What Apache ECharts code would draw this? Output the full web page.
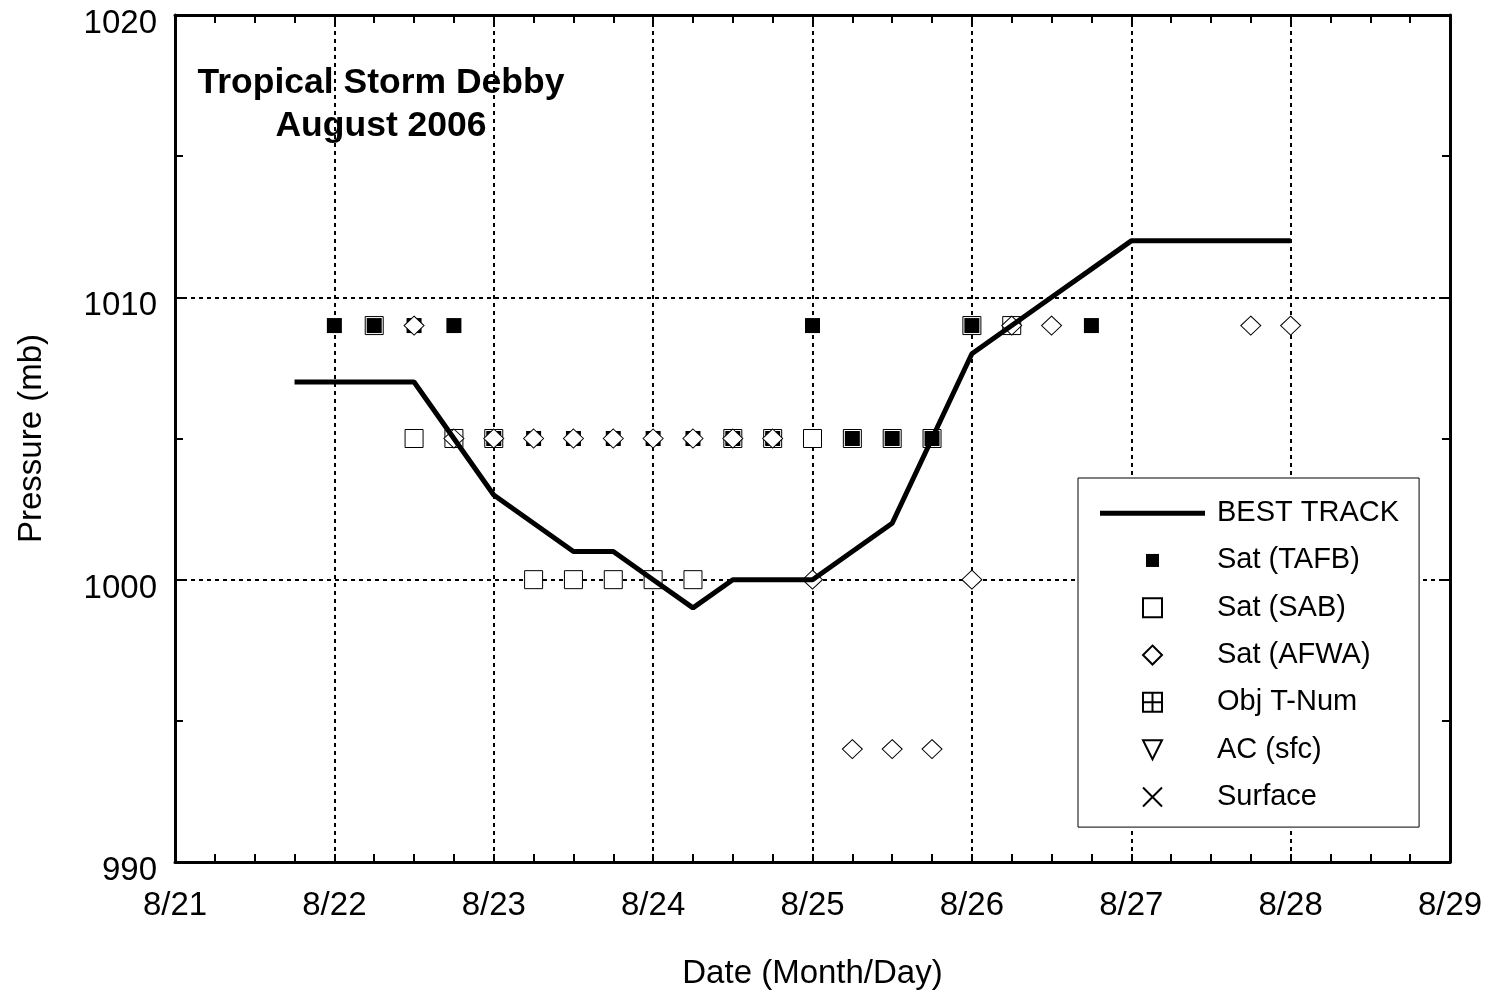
<!DOCTYPE html>
<html>
<head>
<meta charset="utf-8">
<script src="https://cdn.jsdelivr.net/npm/echarts@6/dist/echarts.min.js"></script>
<style>
html,body{margin:0;padding:0;background:#fff;}
#chart{width:1494px;height:998px;}
</style>
</head>
<body>
<div id="chart"></div>
<script>
// ---- data (day of August 2006, pressure in mb) ----
const xTickDays = [21, 22, 23, 24, 25, 26, 27, 28, 29];
const yTicks = [990, 1000, 1010, 1020];

const bestTrackTime = [21.75, 22.0, 22.25, 22.5, 22.75, 23.0, 23.25, 23.5, 23.75, 24.0, 24.25, 24.5, 24.75, 25.0, 25.25, 25.5, 25.75, 26.0, 26.25, 26.5, 26.75, 27.0, 27.25, 27.5, 27.75, 28.0];
const bestTrackPres = [1007, 1007, 1007, 1007, 1005, 1003, 1002, 1001, 1001, 1000, 999, 1000, 1000, 1000, 1001, 1002, 1005, 1008, 1009, 1010, 1011, 1012, 1012, 1012, 1012, 1012];

const tafbTime = [22.0, 22.25, 22.5, 22.75, 23.0, 23.25, 23.5, 23.75, 24.0, 24.25, 24.5, 24.75, 25.0, 25.25, 25.5, 25.75, 26.0, 26.75];
const tafbPres = [1009, 1009, 1009, 1009, 1005, 1005, 1005, 1005, 1005, 1005, 1005, 1005, 1009, 1005, 1005, 1005, 1009, 1009];

const sabTime = [22.25, 22.5, 22.75, 23.0, 23.25, 23.5, 23.75, 24.0, 24.25, 24.5, 24.75, 25.0, 25.25, 25.5, 25.75, 26.0, 26.25];
const sabPres = [1009, 1005, 1005, 1005, 1000, 1000, 1000, 1000, 1000, 1005, 1005, 1005, 1005, 1005, 1005, 1009, 1009];

const afwaTime = [22.5, 22.75, 23.0, 23.25, 23.5, 23.75, 24.0, 24.25, 24.5, 24.75, 25.0, 25.25, 25.5, 25.75, 26.0, 26.25, 26.5, 27.75, 28.0];
const afwaPres = [1009, 1005, 1005, 1005, 1005, 1005, 1005, 1005, 1005, 1005, 1000, 994, 994, 994, 1000, 1009, 1009, 1009, 1009];

const objTNumTime = [];
const objTNumPres = [];
const acSfcTime = [];
const acSfcPres = [];
const surfaceTime = [];
const surfacePres = [];

const seriesNames = ['BEST TRACK', 'Sat (TAFB)', 'Sat (SAB)', 'Sat (AFWA)', 'Obj T-Num', 'AC (sfc)', 'Surface'];
const titleLines = ['Tropical Storm Debby', 'August 2006'];

function pairs(t, p) { return t.map((v, i) => [v, p[i]]); }

const FONT = '"Liberation Sans", Arial, Helvetica, sans-serif';
const gridDash = { color: '#000', width: 2, type: [4, 4] };

const SQUARE = 'path://M0,0L10,0L10,10L0,10Z';
const DIAMOND = 'path://M5,0L10,5L5,10L0,5Z';
const GRIDSQ = 'path://M0,0L10,0L10,10L0,10Z M5,0L5,10 M0,5L10,5';
const TRIDOWN = 'path://M0,0L10,0L5,10Z';
const CROSS = 'path://M0,0L10,10 M10,0L0,10';

const chart = echarts.init(document.getElementById('chart'), null, { renderer: 'canvas' });

const xBase = {
  type: 'value', min: xTickDays[0], max: xTickDays[xTickDays.length - 1], interval: 1,
  axisLine: { show: true, onZero: false, lineStyle: { color: '#000', width: 3 } },
  axisTick: { show: true, inside: true, length: 8, lineStyle: { color: '#000', width: 2 } },
  minorTick: { show: true, splitNumber: 4, length: 8, lineStyle: { color: '#000', width: 2 } },
  minorSplitLine: { show: false }
};
const yBase = {
  type: 'value', min: yTicks[0], max: yTicks[yTicks.length - 1], interval: 10,
  axisLine: { show: true, onZero: false, lineStyle: { color: '#000', width: 3 } },
  axisTick: { show: true, inside: true, length: 8, lineStyle: { color: '#000', width: 2 } },
  minorTick: { show: true, splitNumber: 2, length: 8, lineStyle: { color: '#000', width: 2 } },
  minorSplitLine: { show: false }
};

const option = {
  animation: false,
  backgroundColor: '#fff',
  textStyle: { fontFamily: FONT, color: '#000' },
  grid: { left: 175, right: 44, top: 15, bottom: 136, containLabel: false },
  xAxis: [
    Object.assign({}, xBase, {
      position: 'bottom',
      name: 'Date (Month/Day)', nameLocation: 'middle', nameGap: 95,
      nameTextStyle: { fontFamily: FONT, fontSize: 33, color: '#000', verticalAlign: 'top' },
      axisLabel: { show: true, margin: 27, fontFamily: FONT, fontSize: 33, color: '#000', formatter: v => '8/' + v },
      splitLine: { show: true, lineStyle: gridDash }
    }),
    Object.assign({}, xBase, {
      position: 'top',
      axisLabel: { show: false },
      splitLine: { show: false }
    })
  ],
  yAxis: [
    Object.assign({}, yBase, {
      position: 'left',
      name: 'Pressure (mb)', nameLocation: 'middle', nameGap: 127, nameRotate: 90,
      nameTextStyle: { fontFamily: FONT, fontSize: 33, color: '#000' },
      axisLabel: { show: true, margin: 18, fontFamily: FONT, fontSize: 33, color: '#000', verticalAlign: 'top', lineHeight: 18, formatter: v => String(v) },
      splitLine: { show: true, lineStyle: gridDash }
    }),
    Object.assign({}, yBase, {
      position: 'right',
      axisLabel: { show: false },
      splitLine: { show: false }
    })
  ],
  legend: {
    show: true,
    orient: 'vertical',
    left: 1078, top: 478,
    padding: [20, 20, 15, 22],
    backgroundColor: '#fff',
    borderColor: '#000', borderWidth: 1,
    itemWidth: 105, itemHeight: 19, itemGap: 17,
    symbolKeepAspect: true,
    selectedMode: false,
    data: [
      { name: seriesNames[0], icon: 'path://M0,0L105,0L105,5L0,5Z' },
      { name: seriesNames[1], icon: 'path://M0,0L10,0L10,10L0,10Z M-2.3,-2.3 M12.3,12.3' },
      { name: seriesNames[2], icon: SQUARE },
      { name: seriesNames[3], icon: DIAMOND },
      { name: seriesNames[4], icon: GRIDSQ },
      { name: seriesNames[5], icon: TRIDOWN },
      { name: seriesNames[6], icon: CROSS }
    ],
    textStyle: { fontFamily: FONT, fontSize: 29, color: '#000', lineHeight: 30.3, padding: [0, 0, 0, 7] }
  },
  graphic: [{
    type: 'text', x: 381, y: 62, z: 100,
    style: {
      text: titleLines.join('\n'),
      font: 'bold 35.5px ' + FONT,
      fill: '#000', textAlign: 'center', textVerticalAlign: 'top', lineHeight: 43
    }
  }],
  series: [
    {
      name: seriesNames[2], type: 'scatter', data: pairs(sabTime, sabPres),
      symbol: SQUARE, symbolSize: 18,
      itemStyle: { color: '#fff', borderColor: '#000', borderWidth: 1, opacity: 1 },
      emphasis: { disabled: true }, z: 2
    },
    {
      name: seriesNames[1], type: 'scatter', data: pairs(tafbTime, tafbPres),
      symbol: SQUARE, symbolSize: 15,
      itemStyle: { color: '#000', borderColor: '#000', borderWidth: 0, opacity: 1 },
      emphasis: { disabled: true }, z: 3
    },
    {
      name: seriesNames[3], type: 'scatter', data: pairs(afwaTime, afwaPres),
      symbol: DIAMOND, symbolSize: [20, 19], symbolKeepAspect: false,
      itemStyle: { color: '#fff', borderColor: '#000', borderWidth: 1, opacity: 1 },
      emphasis: { disabled: true }, z: 4
    },
    {
      name: seriesNames[4], type: 'scatter', data: pairs(objTNumTime, objTNumPres),
      symbol: GRIDSQ, symbolSize: 18,
      itemStyle: { color: '#fff', borderColor: '#000', borderWidth: 1, opacity: 1 },
      emphasis: { disabled: true }, z: 4
    },
    {
      name: seriesNames[5], type: 'scatter', data: pairs(acSfcTime, acSfcPres),
      symbol: TRIDOWN, symbolSize: 18,
      itemStyle: { color: '#fff', borderColor: '#000', borderWidth: 1, opacity: 1 },
      emphasis: { disabled: true }, z: 4
    },
    {
      name: seriesNames[6], type: 'scatter', data: pairs(surfaceTime, surfacePres),
      symbol: CROSS, symbolSize: 18,
      itemStyle: { color: 'none', borderColor: '#000', borderWidth: 1, opacity: 1 },
      emphasis: { disabled: true }, z: 4
    },
    {
      name: seriesNames[0], type: 'line', data: pairs(bestTrackTime, bestTrackPres),
      symbol: 'none', showSymbol: false,
      lineStyle: { color: '#000', width: 5, type: 'solid' },
      itemStyle: { color: '#000', borderWidth: 0 },
      emphasis: { disabled: true }, z: 5
    }
  ]
};

chart.setOption(option);
</script>
</body>
</html>
